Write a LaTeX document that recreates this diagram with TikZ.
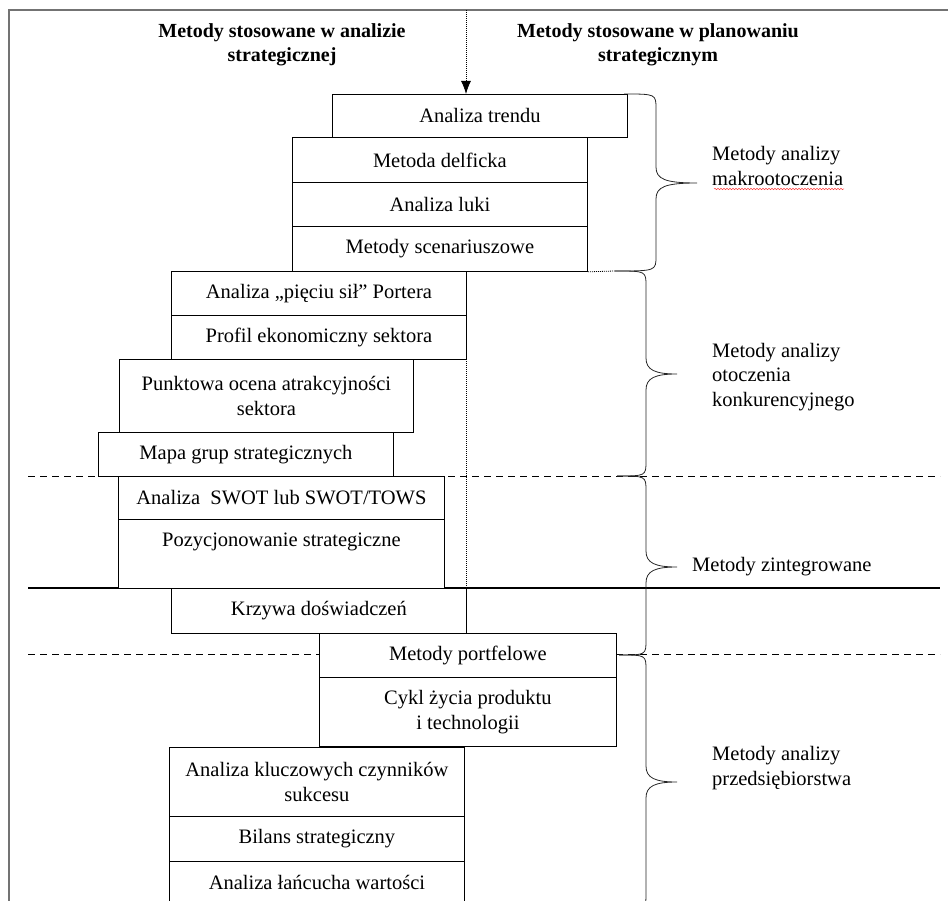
\documentclass[tikz,border=0pt]{standalone}
\usepackage{fontspec}
\setmainfont{Liberation Serif}
\usetikzlibrary{arrows.meta,decorations.pathmorphing}

% curly brace: #1,#2 upper end; #3 x of the spine; #4,#5 tip; #6,#7 lower end
\newcommand\Brace[7]{%
  \draw[bracestyle] (#1,#2) .. controls (#3,#2) .. (#3,#2+15)
    -- (#3,#5-16) .. controls (#3,#5-4) and (#3+9,#5) .. (#4,#5)
    .. controls (#3+9,#5) and (#3,#5+4) .. (#3,#5+16)
    -- (#3,#7-15) .. controls (#3,#7) .. (#6,#7);}

\begin{document}
\begin{tikzpicture}[x=1pt,y=-1pt,
  txt/.style={font=\fontsize{20.5}{24.5}\selectfont},
  mbox/.style={txt,draw=black,fill=white,line width=0.8pt,inner sep=0pt,
    anchor=north west,align=center},
  head/.style={font=\fontsize{20}{24}\selectfont\bfseries,align=center,inner sep=0pt},
  grp/.style={txt,align=left,anchor=west,inner sep=0pt},
  bracestyle/.style={line width=0.8pt,black!85},
  sep dash/.style={line width=0.9pt,dash pattern=on 7pt off 5pt},
  sep solid/.style={line width=1.2pt},
  axis dot/.style={line width=0.8pt,dash pattern=on 1pt off 1pt}]

\useasboundingbox (0,0) rectangle (948,901);
\clip (0,0) rectangle (948,901);

% frame
\draw[line width=1.4pt,black!55] (9,901) -- (9,10) -- (948,10);

% column headings
\node[head] (hl) at (282,45) {Metody stosowane w analizie\\strategicznej};
\node[head] (hr) at (658,45) {Metody stosowane w planowaniu\\strategicznym};

% separators between groups
\coordinate (sL1) at (28,476);  \coordinate (sR1) at (940,476);
\coordinate (sL2) at (28,588);  \coordinate (sR2) at (940,588);
\coordinate (sL3) at (28,654);  \coordinate (sR3) at (940,654);
\draw[sep dash] (sL1) -- (sR1);
\draw[sep solid] (sL2) -- (sR2);
\draw[sep dash] (sL3) -- (sR3);

% central axis
\coordinate (axTop) at (466,10);
\coordinate (axA) at (466,271);
\coordinate (axB) at (466,588);
\draw[axis dot] (axA) -- (axB);

% macro-environment methods
\node[mbox,minimum width=295pt,minimum height=43pt] (trend) at (332,94) {Analiza trendu};
\node[mbox,minimum width=295pt,minimum height=45pt] (delf) at (292,137) {Metoda delficka};
\node[mbox,minimum width=295pt,minimum height=44pt] (luka) at (292,182) {Analiza luki};
\node[mbox,minimum width=295pt,minimum height=45pt] (scen) at (292,226) {Metody scenariuszowe};

\draw[axis dot,-{Latex[length=13pt,width=10pt]}] (axTop) -- (axTop |- trend.north);

% competitive environment methods
\node[mbox,minimum width=295pt,minimum height=44pt] (porter) at (171,271) {Analiza „pięciu sił” Portera};
\node[mbox,minimum width=295pt,minimum height=44pt] (profil) at (171,315) {Profil ekonomiczny sektora};
\node[mbox,minimum width=294pt,minimum height=73pt] (punkt) at (119,359) {Punktowa ocena atrakcyjności\\sektora};
\node[mbox,minimum width=295pt,minimum height=44pt] (mapa) at (98,432) {Mapa grup strategicznych};

% integrated methods
\node[mbox,minimum width=326pt,minimum height=43pt] (swot) at (118,476) {Analiza \ SWOT lub SWOT/TOWS};
\node[mbox,minimum width=326pt,minimum height=69pt,text height=14pt,text depth=29pt] (poz) at (118,519) {Pozycjonowanie strategiczne};

% company analysis methods
\node[mbox,minimum width=295pt,minimum height=45pt] (krzywa) at (171,588) {Krzywa doświadczeń};
\node[mbox,minimum width=297pt,minimum height=44pt] (portfel) at (319,633) {Metody portfelowe};
\node[mbox,minimum width=297pt,minimum height=69pt] (cykl) at (319,677) {Cykl życia produktu\\i technologii};
\node[mbox,minimum width=295pt,minimum height=69pt] (kcs) at (169,747) {Analiza kluczowych czynników\\sukcesu};
\node[mbox,minimum width=295pt,minimum height=45pt] (bilans) at (169,816) {Bilans strategiczny};
\node[mbox,minimum width=295pt,minimum height=42pt] (lanc) at (169,861) {Analiza łańcucha wartości};

% link from the scenario box to the first brace
\coordinate (b1end) at (615,271);
\draw[axis dot] (scen.south east) -- (b1end);

% group braces
\Brace{624}{94}{656}{697}{183}{615}{271}
\Brace{615}{271}{646}{677}{374}{617}{476}
\Brace{617}{476}{646}{677}{567}{619}{655}
\Brace{619}{655}{646}{677}{782}{630}{908}

% group names
\node[grp] (g1) at (712,166) {Metody analizy\\makrootoczenia};
\draw[red!75,line width=0.5pt,decorate,decoration={snake,amplitude=0.7pt,segment length=3pt}]
  (714,189) -- (844,189);
\node[grp] (g2) at (712,377) {Metody analizy\\otoczenia\\konkurencyjnego};
\node[grp] (g3) at (692,567) {Metody zintegrowane};
\node[grp] (g4) at (712,768) {Metody analizy\\przedsiębiorstwa};

\end{tikzpicture}
\end{document}
